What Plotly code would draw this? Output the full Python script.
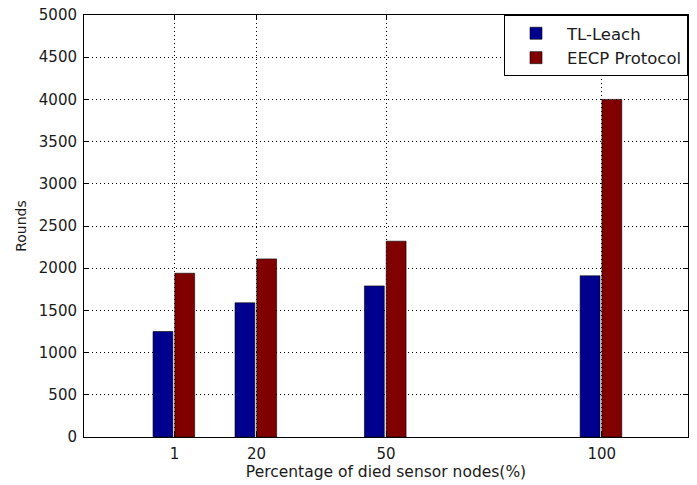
import plotly.graph_objects as go

categories = [1, 20, 50, 100]
tl_leach = [1250, 1590, 1790, 1910]
eecp = [1940, 2110, 2320, 4000]
y_ticks = [0, 500, 1000, 1500, 2000, 2500, 3000, 3500, 4000, 4500, 5000]
series_names = ["TL-Leach", "EECP Protocol"]

FONT = "DejaVu Sans"
fig = go.Figure()
fig.add_trace(go.Bar(x=categories, y=tl_leach, name=series_names[0],
                     width=4.6, offset=-5.0,
                     marker=dict(color="#00008F", line=dict(color="black", width=0.6))))
fig.add_trace(go.Bar(x=categories, y=eecp, name=series_names[1],
                     width=4.6, offset=0.05,
                     marker=dict(color="#800000", line=dict(color="black", width=0.6))))

fig.update_layout(
    width=697, height=485,
    margin=dict(l=84, r=9, t=15, b=48, autoexpand=False),
    paper_bgcolor="white", plot_bgcolor="white",
    font=dict(family=FONT, size=15, color="#1a1a1a"),
    showlegend=True,
    legend=dict(x=1, y=1, xanchor="right", yanchor="top",
                bgcolor="white", bordercolor="black", borderwidth=1,
                font=dict(family=FONT, size=16.5, color="#1a1a1a"),
                itemwidth=52, tracegroupgap=0),
    barmode="overlay",
)
fig.update_xaxes(
    range=[-20, 120], tickvals=categories, ticktext=[str(c) for c in categories],
    showline=True, linecolor="black", linewidth=1, mirror="ticks",
    ticks="inside", ticklen=5, tickcolor="black",
    showgrid=True, gridcolor="black", gridwidth=1, griddash="1px,3px",
    zeroline=False, automargin=False,
    title=dict(text="Percentage of died sensor nodes(%)", standoff=4,
               font=dict(family=FONT, size=15.5)),
    ticklabelstandoff=3, ticklabeloverflow="allow",
)
fig.update_yaxes(
    range=[0, 5000], tickvals=y_ticks,
    showline=True, linecolor="black", linewidth=1, mirror="ticks",
    ticks="inside", ticklen=5, tickcolor="black",
    showgrid=True, gridcolor="black", gridwidth=1, griddash="1px,3px",
    zeroline=False, automargin=False,
    title=dict(text="Rounds", standoff=8, font=dict(family=FONT, size=14)),
    ticklabelstandoff=3, ticklabeloverflow="allow",
)
fig.write_html("out.html", config={"displayModeBar": False},
               post_script="document.body.style.margin='0';")
